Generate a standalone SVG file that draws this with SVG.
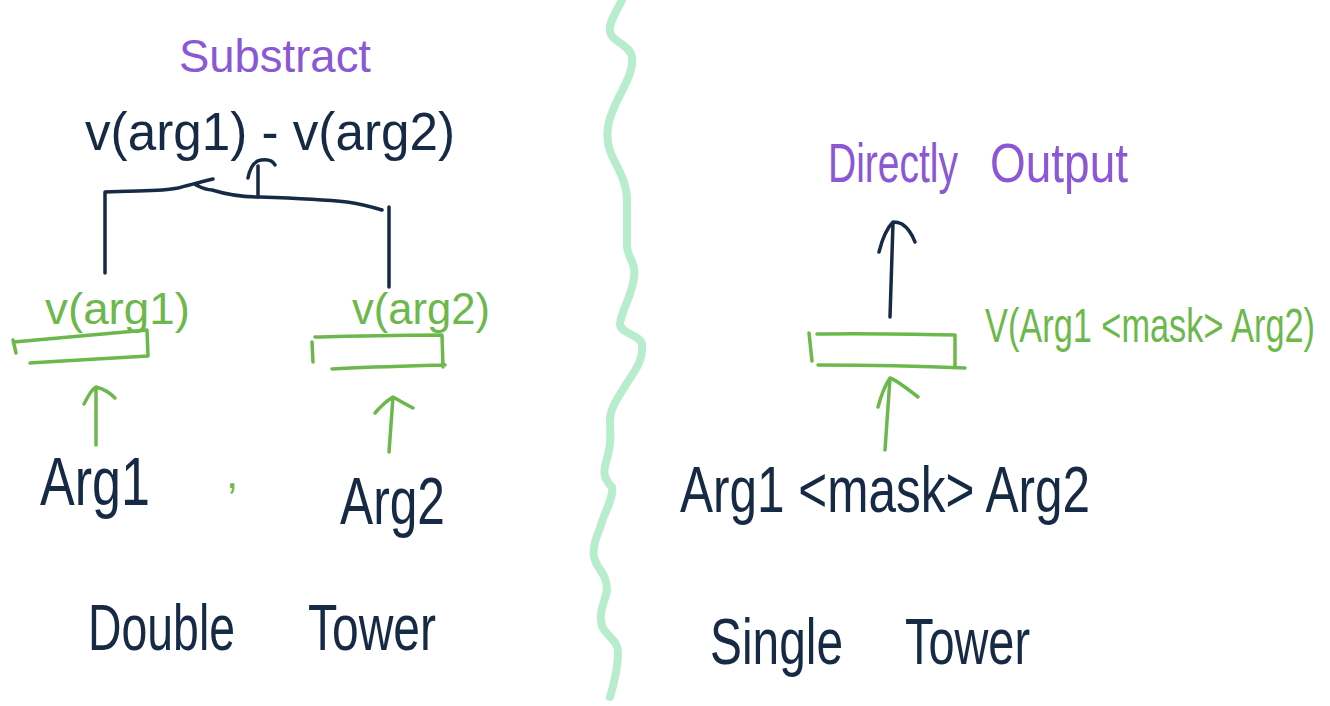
<svg xmlns="http://www.w3.org/2000/svg" width="1330" height="706" viewBox="0 0 1330 706">
<style>
.t{font-family:"Liberation Sans",Arial,sans-serif;}
.navy{fill:#172a45;}
.purple{fill:#8b57d4;}
.green{fill:#6cb84c;}
.sn{fill:none;stroke:#172a45;stroke-width:3.5;stroke-linecap:round;stroke-linejoin:round;}
.sg{fill:none;stroke:#6cb84c;stroke-width:3.5;stroke-linecap:round;stroke-linejoin:round;}
.div{fill:none;stroke:#b7edcd;stroke-width:8;stroke-linecap:round;stroke-linejoin:round;}
</style>
<rect width="1330" height="706" fill="#ffffff"/>

<g id="divider">
<path class="div" d="M622,0 C616,12 608,24 610,32 C612,42 632,46 632,58 C634,74 620,92 613,110 C606,126 605,142 613,158 C620,172 627,184 627,200 L627,247 C628,258 636,262 634,278 C632,295 622,310 620,323 C619,334 640,334 642,344 C644,360 634,372 627,383 C618,398 610,408 610,420 C610,434 612,440 608,455 C605,466 600,476 612,487 C614,498 605,510 600,528 C594,542 592,553 595,560 C598,570 607,574 607,590 C605,602 598,612 602,626 C606,636 618,640 618,652 C618,670 614,684 610,697"/>
</g>

<g id="connectors">
<path class="sn" d="M105,273 L105,192 C135,190 160,192 178,188 C190,185 200,182 213,179 M196,185 C202,188 206,190 212,190 C225,194 240,197 260,197 C290,198 320,199 347,202 C362,204 372,207 382,210"/>
<path class="sn" d="M389,207 L389,287"/>
<path class="sn" d="M258,197 L258,166 M248,178 C250,168 254,161 261,160 C268,159 273,161 275,165"/>
<path class="sg" d="M96,445 L96,387 M84,404 C88,396 92,389 96,387 C104,389 110,393 115,398"/>
<path class="sg" d="M389,452 L393,397 M375,413 C381,406 388,400 393,397 C400,401 407,405 413,408"/>
<path class="sn" d="M890,317 L893,223 M879,252 C882,240 887,228 893,222 C898,222 900,223 902,224 C908,228 912,234 915,242"/>
<path class="sg" d="M885,450 L890,378 M878,407 C881,396 885,385 890,378 C896,380 904,386 918,397"/>
</g>

<g id="substract-label">
<text class="t purple" x="179" y="72" font-size="46" textLength="192" lengthAdjust="spacingAndGlyphs">Substract</text>
</g>

<g id="difference">
<text class="t navy" x="85" y="150" font-size="54" textLength="370" lengthAdjust="spacingAndGlyphs">v(arg1) - v(arg2)</text>
</g>

<g id="tower1">
<text class="t green" x="45" y="324" font-size="44" textLength="145" lengthAdjust="spacingAndGlyphs">v(arg1)</text>
<path class="sg" d="M13,340 L16,353 M14,342 C60,338 110,333 147,330 L148,356 C110,358 70,361 30,363"/>
</g>

<g id="tower2">
<text class="t green" x="352" y="324" font-size="44" textLength="138" lengthAdjust="spacingAndGlyphs">v(arg2)</text>
<path class="sg" d="M312,342 L313,362 M315,337 C360,336 400,335 442,335 L443,367 M332,369 C370,367 410,366 445,365"/>
</g>

<g id="arg1">
<text class="t navy" x="40" y="505" font-size="68" textLength="110" lengthAdjust="spacingAndGlyphs">Arg1</text>
</g>

<g id="comma">
<text class="t green" x="226" y="488" font-size="44">,</text>
</g>

<g id="arg2">
<text class="t navy" x="340" y="524" font-size="66" textLength="105" lengthAdjust="spacingAndGlyphs">Arg2</text>
</g>

<g id="double-tower-title">
<text class="t navy" x="88" y="650" font-size="64" textLength="147" lengthAdjust="spacingAndGlyphs">Double</text>
<text class="t navy" x="308" y="650" font-size="64" textLength="128" lengthAdjust="spacingAndGlyphs">Tower</text>
</g>

<g id="directly-output">
<text class="t purple" transform="translate(828,182) scale(1,1.2)" font-size="46" textLength="130" lengthAdjust="spacingAndGlyphs">Directly</text>
<text class="t purple" transform="translate(990,182) scale(1,1.2)" font-size="46" textLength="138" lengthAdjust="spacingAndGlyphs">Output</text>
</g>

<g id="single-encoder">
<path class="sg" d="M809,333 L812,361 M817,334 C860,333 910,334 955,335 L955,367 M818,365 C870,365 920,366 965,368"/>
<text class="t green" transform="translate(985,342) scale(1,1.4)" font-size="34" textLength="330" lengthAdjust="spacingAndGlyphs">V(Arg1 &lt;mask&gt; Arg2)</text>
</g>

<g id="joint-input">
<text class="t navy" x="680" y="512" font-size="64" textLength="410" lengthAdjust="spacingAndGlyphs">Arg1 &lt;mask&gt; Arg2</text>
</g>

<g id="single-tower-title">
<text class="t navy" x="710" y="664" font-size="64" textLength="133" lengthAdjust="spacingAndGlyphs">Single</text>
<text class="t navy" x="905" y="664" font-size="64" textLength="125" lengthAdjust="spacingAndGlyphs">Tower</text>
</g>
</svg>
